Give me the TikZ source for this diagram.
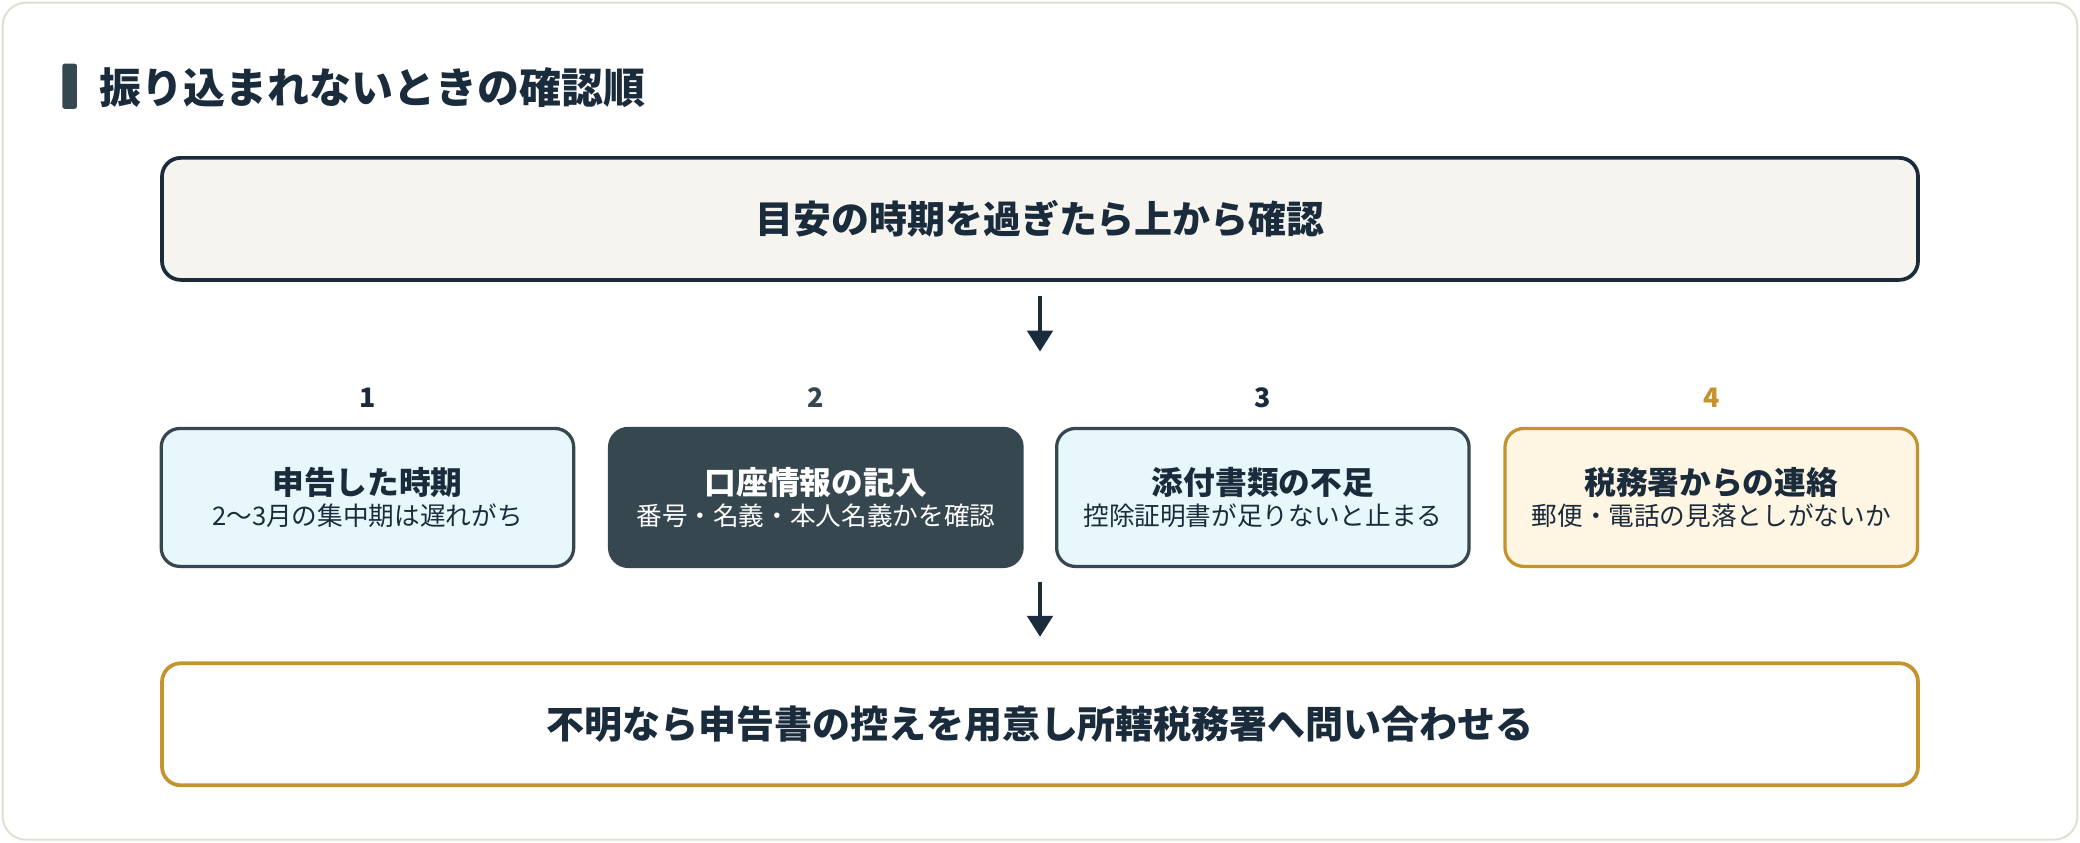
\documentclass[tikz,border=0pt]{standalone}
\usepackage{fontspec}
\setmainfont{Noto Sans CJK JP}
\usetikzlibrary{arrows.meta, positioning, calc}
\definecolor{ink}{HTML}{1A2B3C}
\definecolor{slate}{HTML}{37474F}
\definecolor{gold}{HTML}{C4922E}
\definecolor{paper}{HTML}{F5F4EF}
\definecolor{ice}{HTML}{E8F7FC}
\definecolor{cream}{HTML}{FFF5E3}
\definecolor{frame}{HTML}{E0DDD0}
\tikzset{
    wide/.style={draw=ink, line width=1.6pt, rounded corners=8pt, minimum width=26.48cm, minimum height=1.84cm, font=\bfseries\fontsize{16.3}{19}\selectfont, text=ink},
    stage/.style={draw=slate, line width=1.4pt, rounded corners=8pt, minimum width=6.22cm, minimum height=2.08cm, fill=ice, text=ink, align=center},
    num/.style={font=\bfseries\fontsize{11.5}{13}\selectfont, text=ink},
    flow/.style={-{Triangle[length=9pt,width=11pt]}, draw=ink, line width=1.4pt},
}
\newcommand{\Stage}[2]{{\bfseries\fontsize{13.6}{16}\selectfont #1}\\[1pt]{\fontsize{11}{13}\selectfont #2}}
\begin{document}
\begin{tikzpicture}[x=0.02cm, y=-0.02cm]
    \useasboundingbox (0,0) rectangle (1568,635);
    \draw[frame, fill=white, line width=0.8pt, rounded corners=10pt] (2,2) rectangle (1566,633);

    % title
    \fill[slate, rounded corners=1pt] (47,48) rectangle (58,82);
    \node[anchor=west, text=ink, font=\bfseries\fontsize{18}{21}\selectfont] (title) at (69,66) {振り込まれないときの確認順};

    \node[wide, fill=paper] (top) at (784,165) {目安の時期を過ぎたら上から確認};

    \node[num] (n1) at (277,300) {1};
    \node[num, text=slate] (n2) at (615,300) {2};
    \node[num] (n3) at (952,300) {3};
    \node[num, text=gold] (n4) at (1290,300) {4};

    \node[stage] (s1) at (277,375) {\Stage{申告した時期}{2〜3月の集中期は遅れがち}};
    \node[stage, fill=slate, text=white] (s2) at (615,375) {\Stage{口座情報の記入}{番号・名義・本人名義かを確認}};
    \node[stage] (s3) at (952,375) {\Stage{添付書類の不足}{控除証明書が足りないと止まる}};
    \node[stage, draw=gold, fill=cream] (s4) at (1290,375) {\Stage{税務署からの連絡}{郵便・電話の見落としがないか}};

    \node[wide, draw=gold, fill=white] (bottom) at (784,546) {不明なら申告書の控えを用意し所轄税務署へ問い合わせる};

    \coordinate (a1) at (784,265);
    \coordinate (a2) at (784,480);
    \draw[flow] ($(top.south)+(0,11)$) -- (a1);
    \draw[flow] ($(top.south)+(0,226)$) -- (a2);
\end{tikzpicture}
\end{document}
